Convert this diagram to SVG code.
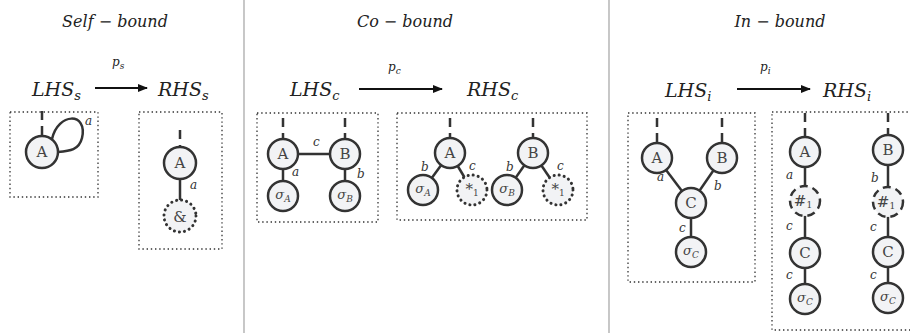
<svg xmlns="http://www.w3.org/2000/svg" width="910" height="333" viewBox="0 0 910 333">
<defs>
<marker id="ah" markerWidth="10" markerHeight="8" refX="9" refY="4" orient="auto" markerUnits="userSpaceOnUse">
<path d="M0,0 L10,4 L0,8 z" fill="#111"/>
</marker>
<style>
text{font-family:'DejaVu Serif','Liberation Serif',serif}
.t{font-style:italic;fill:#222}
.title{font-size:16px}
.hs{font-size:19px}
.p{font-size:12px}
.el{font-size:12px;font-style:italic;fill:#333}
.nl{font-size:15px;fill:#444;text-anchor:middle}
.ns{font-style:italic;font-size:13px;fill:#444;text-anchor:middle}
.box{fill:none;stroke:#333;stroke-width:1.3;stroke-dasharray:1.4 2.8}
.div{stroke:#aaa;stroke-width:1.3}
.e{stroke:#333;stroke-width:2.5;fill:none}
.stub{stroke:#333;stroke-width:2.5;stroke-dasharray:9 6;fill:none}
.arr{stroke:#111;stroke-width:2;marker-end:url(#ah)}
.n{fill:#f2f3f5;stroke:#333;stroke-width:2.5}
.dot{fill:#f2f3f5;stroke:#333;stroke-width:3;stroke-dasharray:0.1 5;stroke-linecap:round}
.dash{fill:#f2f3f5;stroke:#333;stroke-width:2.5;stroke-dasharray:8 5}
</style>
</defs>
<rect width="910" height="333" fill="#fff"/>
<line class="div" x1="244" y1="0" x2="244" y2="333"/>
<line class="div" x1="609" y1="0" x2="609" y2="333"/>

<g id="titles">
<text class="t title" x="115" y="27" text-anchor="middle">Self − bound</text>
<text class="t title" x="405" y="27" text-anchor="middle">Co − bound</text>
<text class="t title" x="780" y="27" text-anchor="middle">In − bound</text>
</g>

<g id="rules">
<text class="t p" x="112" y="66">p<tspan font-size="9" dy="3">s</tspan></text>
<text class="t hs" x="32" y="96">LHS<tspan font-size="13" dy="4">s</tspan></text>
<text class="t hs" x="158" y="96">RHS<tspan font-size="13" dy="4">s</tspan></text>
<text class="t p" x="388" y="71">p<tspan font-size="9" dy="3">c</tspan></text>
<text class="t hs" x="290" y="96">LHS<tspan font-size="13" dy="4">c</tspan></text>
<text class="t hs" x="467" y="96">RHS<tspan font-size="13" dy="4">c</tspan></text>
<text class="t p" x="760" y="71">p<tspan font-size="9" dy="3">i</tspan></text>
<text class="t hs" x="665" y="97">LHS<tspan font-size="13" dy="4">i</tspan></text>
<text class="t hs" x="823" y="97">RHS<tspan font-size="13" dy="4">i</tspan></text>
</g>

<g id="boxes">
<rect class="box" x="10" y="112" width="88" height="85"/>
<rect class="box" x="139" y="112" width="83" height="137"/>
<rect class="box" x="257" y="113" width="121" height="109"/>
<rect class="box" x="397" y="113" width="190" height="107"/>
<rect class="box" x="628" y="113" width="127" height="169"/>
<rect class="box" x="772" y="112" width="145" height="218"/>
</g>

<g id="connectors">
<line class="arr" x1="95" y1="88" x2="147" y2="88"/>
<line class="arr" x1="359" y1="89" x2="442" y2="89"/>
<line class="arr" x1="737" y1="89" x2="810" y2="89"/>
<line class="stub" x1="42" y1="111" x2="42" y2="136"/>
<path class="e" d="M52,139 C58,112 88,112 82,138 C79,150 70,151 58,152"/>
<line class="stub" x1="180" y1="130" x2="180" y2="147"/>
<line class="e" x1="180" y1="163" x2="180" y2="216"/>
<line class="stub" x1="283" y1="118" x2="283" y2="139"/>
<line class="stub" x1="345" y1="118" x2="345" y2="139"/>
<line class="e" x1="283" y1="154" x2="345" y2="154"/>
<line class="e" x1="283" y1="154" x2="283" y2="196"/>
<line class="e" x1="345" y1="154" x2="345" y2="196"/>
<line class="stub" x1="450" y1="118" x2="450" y2="138"/>
<line class="stub" x1="533" y1="118" x2="533" y2="138"/>
<line class="e" x1="450" y1="153" x2="423" y2="190"/>
<line class="e" x1="450" y1="153" x2="472" y2="190"/>
<line class="e" x1="533" y1="153" x2="507" y2="190"/>
<line class="e" x1="533" y1="153" x2="558" y2="190"/>
<line class="stub" x1="657" y1="118" x2="657" y2="143"/>
<line class="stub" x1="722" y1="118" x2="722" y2="143"/>
<line class="e" x1="657" y1="158" x2="691" y2="203"/>
<line class="e" x1="722" y1="158" x2="691" y2="203"/>
<line class="e" x1="691" y1="203" x2="691" y2="252"/>
<line class="stub" x1="805" y1="113" x2="805" y2="137"/>
<line class="e" x1="805" y1="152" x2="805" y2="299"/>
<line class="stub" x1="888" y1="113" x2="888" y2="135"/>
<line class="e" x1="888" y1="150" x2="888" y2="298"/>
</g>

<g id="edge-labels">
<text class="el" x="85" y="125">a</text>
<text class="el" x="190" y="189">a</text>
<text class="el" x="313" y="146">c</text>
<text class="el" x="292" y="176">a</text>
<text class="el" x="357" y="178">b</text>
<text class="el" x="421" y="171">b</text>
<text class="el" x="469" y="170">c</text>
<text class="el" x="506" y="171">b</text>
<text class="el" x="557" y="170">c</text>
<text class="el" x="657" y="181">a</text>
<text class="el" x="714" y="190">b</text>
<text class="el" x="679" y="232">c</text>
<text class="el" x="786" y="179">a</text>
<text class="el" x="786" y="230">c</text>
<text class="el" x="786" y="279">c</text>
<text class="el" x="871" y="182">b</text>
<text class="el" x="870" y="231">c</text>
<text class="el" x="870" y="279">c</text>
</g>

<g id="self-lhs-A"><circle class="n" cx="42" cy="152" r="16"/><text class="nl" x="42" y="157">A</text></g>
<g id="self-rhs-A"><circle class="n" cx="180" cy="163" r="16"/><text class="nl" x="180" y="168">A</text></g>
<g id="self-rhs-amp"><circle class="dot" cx="180" cy="216" r="16"/><text class="nl" x="180" y="222" font-size="17">&amp;</text></g>

<g id="co-lhs-A"><circle class="n" cx="283" cy="154" r="15"/><text class="nl" x="283" y="159">A</text></g>
<g id="co-lhs-B"><circle class="n" cx="345" cy="154" r="15"/><text class="nl" x="345" y="159">B</text></g>
<g id="co-lhs-sA"><circle class="n" cx="283" cy="196" r="15"/><text class="ns" x="283" y="199">σ<tspan font-size="9" dy="3">A</tspan></text></g>
<g id="co-lhs-sB"><circle class="n" cx="345" cy="196" r="15"/><text class="ns" x="345" y="199">σ<tspan font-size="9" dy="3">B</tspan></text></g>

<g id="co-rhs-A"><circle class="n" cx="450" cy="153" r="15"/><text class="nl" x="450" y="158">A</text></g>
<g id="co-rhs-B"><circle class="n" cx="533" cy="153" r="15"/><text class="nl" x="533" y="158">B</text></g>
<g id="co-rhs-sA"><circle class="n" cx="423" cy="190" r="15"/><text class="ns" x="423" y="193">σ<tspan font-size="9" dy="3">A</tspan></text></g>
<g id="co-rhs-star1"><circle class="dot" cx="472" cy="190" r="15"/><text class="nl" x="472" y="194" font-size="12" fill="#666">*<tspan font-size="9" dy="2">1</tspan></text></g>
<g id="co-rhs-sB"><circle class="n" cx="507" cy="190" r="15"/><text class="ns" x="507" y="193">σ<tspan font-size="9" dy="3">B</tspan></text></g>
<g id="co-rhs-star2"><circle class="dot" cx="558" cy="190" r="15"/><text class="nl" x="558" y="194" font-size="12" fill="#666">*<tspan font-size="9" dy="2">1</tspan></text></g>

<g id="in-lhs-A"><circle class="n" cx="657" cy="158" r="15"/><text class="nl" x="657" y="163">A</text></g>
<g id="in-lhs-B"><circle class="n" cx="722" cy="158" r="15"/><text class="nl" x="722" y="163">B</text></g>
<g id="in-lhs-C"><circle class="n" cx="691" cy="203" r="15"/><text class="nl" x="691" y="208">C</text></g>
<g id="in-lhs-sC"><circle class="n" cx="691" cy="252" r="15"/><text class="ns" x="691" y="255">σ<tspan font-size="9" dy="3">C</tspan></text></g>

<g id="in-rhs-A"><circle class="n" cx="805" cy="152" r="15"/><text class="nl" x="805" y="157">A</text></g>
<g id="in-rhs-h1"><circle class="dash" cx="805" cy="201" r="15"/><text class="nl" x="803" y="206">#<tspan font-size="9" dy="2">1</tspan></text></g>
<g id="in-rhs-C1"><circle class="n" cx="805" cy="253" r="15"/><text class="nl" x="805" y="258">C</text></g>
<g id="in-rhs-sC1"><circle class="n" cx="805" cy="299" r="15"/><text class="ns" x="805" y="302">σ<tspan font-size="9" dy="3">C</tspan></text></g>
<g id="in-rhs-B"><circle class="n" cx="888" cy="150" r="15"/><text class="nl" x="888" y="155">B</text></g>
<g id="in-rhs-h2"><circle class="dash" cx="888" cy="202" r="15"/><text class="nl" x="886" y="207">#<tspan font-size="9" dy="2">1</tspan></text></g>
<g id="in-rhs-C2"><circle class="n" cx="888" cy="252" r="15"/><text class="nl" x="888" y="257">C</text></g>
<g id="in-rhs-sC2"><circle class="n" cx="888" cy="298" r="15"/><text class="ns" x="888" y="301">σ<tspan font-size="9" dy="3">C</tspan></text></g>
</svg>
